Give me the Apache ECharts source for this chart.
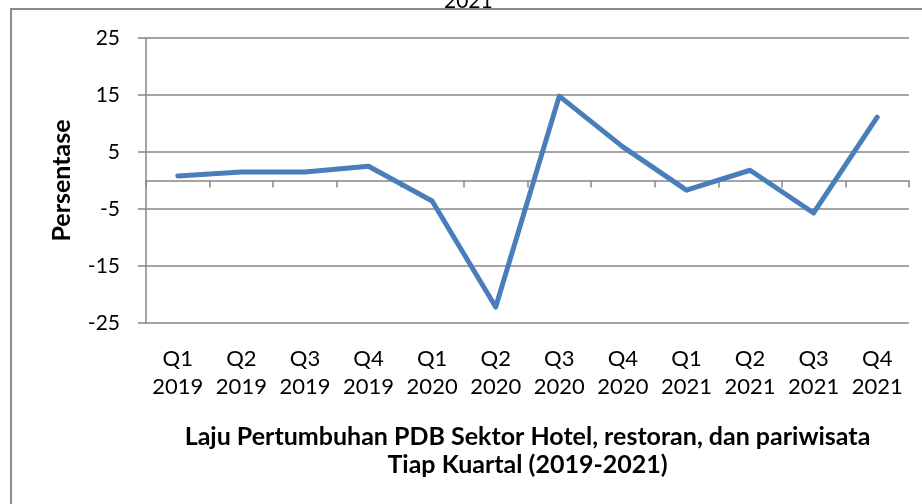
<!DOCTYPE html>
<html>
<head>
<meta charset="utf-8">
<script src="https://cdn.jsdelivr.net/npm/echarts@6/dist/echarts.min.js"></script>
<style>
  html, body { margin: 0; padding: 0; background: #fff; }
  #chart { width: 922px; height: 504px; }
</style>
</head>
<body>
<div id="chart"></div>
<script>
// data
var quarters = ['Q1', 'Q2', 'Q3', 'Q4', 'Q1', 'Q2', 'Q3', 'Q4', 'Q1', 'Q2', 'Q3', 'Q4']
var years = ['2019', '2019', '2019', '2019', '2020', '2020', '2020', '2020', '2021', '2021', '2021', '2021']
var laju = [0.8, 1.5, 1.5, 2.5, -3.6, -22.2, 14.8, 5.9, -1.7, 1.8, -5.7, 11.1]
var categories = quarters.map(function(q, i) {
  return q + '\n' + years[i]
})

var gridColor = '#878787'
var fontName = 'Lato'

var chart = echarts.init(document.getElementById('chart'))
chart.setOption({
  animation: false,
  backgroundColor: '#fff',
  grid: {
    left: 146,
    right: 13,
    top: 38,
    bottom: 181
  },
  graphic: [
    {
      type: 'rect',
      shape: { x: 11, y: 9, width: 940, height: 520 },
      style: { fill: 'none', stroke: '#8c8c8c', lineWidth: 2 }
    },
    {
      type: 'text',
      left: 444,
      top: -9,
      style: { text: '2021', font: '21px Lato', fill: '#000' }
    }
  ],
  xAxis: [
    {
      // garis sumbu di nol
      type: 'category',
      data: categories,
      boundaryGap: true,
      axisLine: { onZero: true, lineStyle: { color: gridColor, width: 1.5 } },
      axisTick: { show: true, length: 7, inside: false, lineStyle: { color: gridColor, width: 1.5 } },
      axisLabel: { show: false },
      splitLine: { show: false }
    },
    {
      // label kategori di bawah
      type: 'category',
      position: 'bottom',
      data: categories,
      boundaryGap: true,
      axisLine: { show: false, onZero: false },
      axisTick: { show: false },
      axisLabel: {
        show: true,
        interval: 0,
        margin: 22,
        color: '#000',
        fontFamily: fontName,
        fontSize: 22,
        lineHeight: 28
      },
      name: 'Laju Pertumbuhan PDB Sektor Hotel, restoran, dan pariwisata\nTiap Kuartal (2019-2021)',
      nameLocation: 'middle',
      nameGap: 100,
      nameTextStyle: {
        color: '#000',
        fontFamily: fontName,
        fontSize: 25,
        fontWeight: 'bold',
        lineHeight: 28
      }
    }
  ],
  yAxis: {
    type: 'value',
    min: -25,
    max: 25,
    interval: 10,
    name: 'Persentase',
    nameLocation: 'middle',
    nameGap: 72,
    nameRotate: 90,
    nameTextStyle: {
      color: '#000',
      fontFamily: fontName,
      fontSize: 25,
      fontWeight: 'bold'
    },
    axisLine: { show: true, lineStyle: { color: gridColor, width: 1.5 } },
    axisTick: { show: true, length: 8, lineStyle: { color: gridColor, width: 1.5 } },
    axisLabel: {
      margin: 26,
      color: '#000',
      fontFamily: fontName,
      fontSize: 21
    },
    splitLine: { show: true, lineStyle: { color: gridColor, width: 1.5 } }
  },
  series: [{
    type: 'line',
    xAxisIndex: 0,
    data: laju,
    showSymbol: false,
    symbol: 'none',
    lineStyle: { color: '#4a7ebb', width: 5, cap: 'round', join: 'round' },
    itemStyle: { color: '#4a7ebb' }
  }]
})
</script>
</body>
</html>
